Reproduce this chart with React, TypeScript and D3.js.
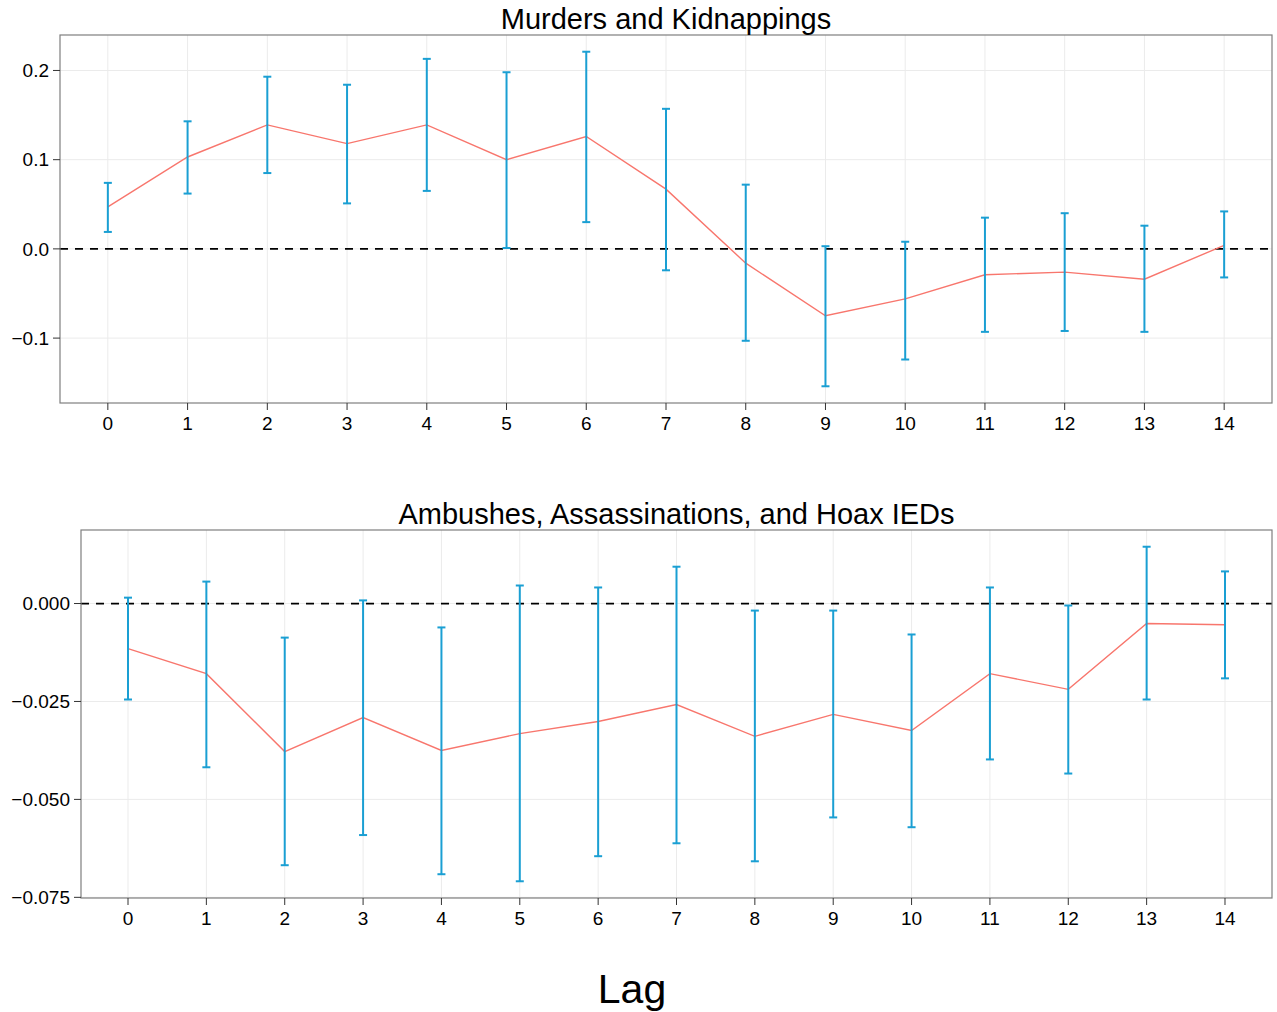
import React from "react";
import * as d3 from "d3";

const lags = [0, 1, 2, 3, 4, 5, 6, 7, 8, 9, 10, 11, 12, 13, 14];

const murdersEst = [0.047, 0.103, 0.139, 0.118, 0.139, 0.100, 0.126, 0.067, -0.016, -0.075, -0.056, -0.029, -0.026, -0.034, 0.004];
const murdersHi = [0.074, 0.143, 0.193, 0.184, 0.213, 0.198, 0.221, 0.157, 0.072, 0.003, 0.008, 0.035, 0.040, 0.026, 0.042];
const murdersLo = [0.019, 0.062, 0.085, 0.051, 0.065, 0.001, 0.030, -0.024, -0.103, -0.154, -0.124, -0.093, -0.092, -0.093, -0.032];

const ambushEst = [-0.0115, -0.0179, -0.0378, -0.0291, -0.0375, -0.0332, -0.0301, -0.0258, -0.0339, -0.0283, -0.0324, -0.0179, -0.0219, -0.0051, -0.0054];
const ambushHi = [0.0015, 0.0056, -0.0087, 0.0008, -0.0061, 0.0046, 0.0041, 0.0094, -0.0018, -0.0018, -0.0079, 0.0041, -0.0005, 0.0145, 0.0082];
const ambushLo = [-0.0245, -0.0418, -0.0668, -0.0591, -0.0691, -0.0709, -0.0645, -0.0612, -0.0658, -0.0546, -0.0571, -0.0398, -0.0434, -0.0245, -0.0191];

const topTicks = [-0.1, 0.0, 0.1, 0.2];
const bottomTicks = [-0.075, -0.05, -0.025, 0.0];

const FONT = "'Liberation Sans', Arial, Helvetica, sans-serif";
const ERR = "#1a9fd3";
const LINE = "#F8766D";

type PanelProps = {
  title: string;
  left: number;
  right: number;
  top: number;
  bottom: number;
  est: number[];
  hi: number[];
  lo: number[];
  ticks: number[];
  fmt: (v: number) => string;
};

function Panel({ title, left, right, top, bottom, est, hi, lo, ticks, fmt }: PanelProps) {
  const all = [...hi, ...lo];
  const mn = d3.min(all)!;
  const mx = d3.max(all)!;
  const pad = (mx - mn) * 0.05;
  const x = d3.scaleLinear().domain([-0.6, 14.6]).range([left, right]);
  const y = d3.scaleLinear().domain([mn - pad, mx + pad]).range([bottom, top]);
  const line = d3
    .line<number>()
    .x((_, i) => x(lags[i]))
    .y((d) => y(d));
  const cap = 4;
  return (
    <g>
      <rect x={left} y={top} width={right - left} height={bottom - top} fill="white" />
      {ticks.map((t) => (
        <line key={"gy" + t} x1={left} x2={right} y1={y(t)} y2={y(t)} stroke="#ebebeb" strokeWidth={1} />
      ))}
      {lags.map((l) => (
        <line key={"gx" + l} x1={x(l)} x2={x(l)} y1={top} y2={bottom} stroke="#ebebeb" strokeWidth={1} />
      ))}
      <line x1={left} x2={right} y1={y(0)} y2={y(0)} stroke="black" strokeWidth={1.8} strokeDasharray="8,7" />
      <path d={line(est) || ""} fill="none" stroke={LINE} strokeWidth={1.4} />
      {lags.map((l, i) => (
        <g key={"e" + l} stroke={ERR} strokeWidth={2}>
          <line x1={x(l)} x2={x(l)} y1={y(hi[i])} y2={y(lo[i])} />
          <line x1={x(l) - cap} x2={x(l) + cap} y1={y(hi[i])} y2={y(hi[i])} />
          <line x1={x(l) - cap} x2={x(l) + cap} y1={y(lo[i])} y2={y(lo[i])} />
        </g>
      ))}
      <rect x={left} y={top} width={right - left} height={bottom - top} fill="none" stroke="#7f7f7f" strokeWidth={1.2} />
      {ticks.map((t) => (
        <g key={"ty" + t}>
          <line x1={left - 7} x2={left} y1={y(t)} y2={y(t)} stroke="#333" strokeWidth={1} />
          <text x={left - 11} y={y(t)} dy="0.35em" textAnchor="end" fontSize={19} fontFamily={FONT} fill="black">
            {fmt(t)}
          </text>
        </g>
      ))}
      {lags.map((l) => (
        <g key={"tx" + l}>
          <line x1={x(l)} x2={x(l)} y1={bottom} y2={bottom + 7} stroke="#333" strokeWidth={1} />
          <text x={x(l)} y={bottom + 27} textAnchor="middle" fontSize={19} fontFamily={FONT} fill="black">
            {l}
          </text>
        </g>
      ))}
      <text x={(left + right) / 2} y={top - 6} textAnchor="middle" fontSize={29} fontFamily={FONT} fill="black">
        {title}
      </text>
    </g>
  );
}

const minus = (s: string) => s.replace("-", "\u2212");

export default function App() {
  return (
    <svg width={1277} height={1012} style={{ position: "absolute", left: 0, top: 0, background: "white" }}>
      <rect x={0} y={0} width={1277} height={1012} fill="white" />
      <Panel
        title="Murders and Kidnappings"
        left={60}
        right={1272}
        top={35}
        bottom={403}
        est={murdersEst}
        hi={murdersHi}
        lo={murdersLo}
        ticks={topTicks}
        fmt={(v) => minus(d3.format(".1f")(v))}
      />
      <Panel
        title="Ambushes, Assassinations, and Hoax IEDs"
        left={81}
        right={1272}
        top={530}
        bottom={898}
        est={ambushEst}
        hi={ambushHi}
        lo={ambushLo}
        ticks={bottomTicks}
        fmt={(v) => minus(d3.format(".3f")(v))}
      />
      <text x={632} y={1003} textAnchor="middle" fontSize={41} fontFamily={FONT} fill="black">
        Lag
      </text>
    </svg>
  );
}
